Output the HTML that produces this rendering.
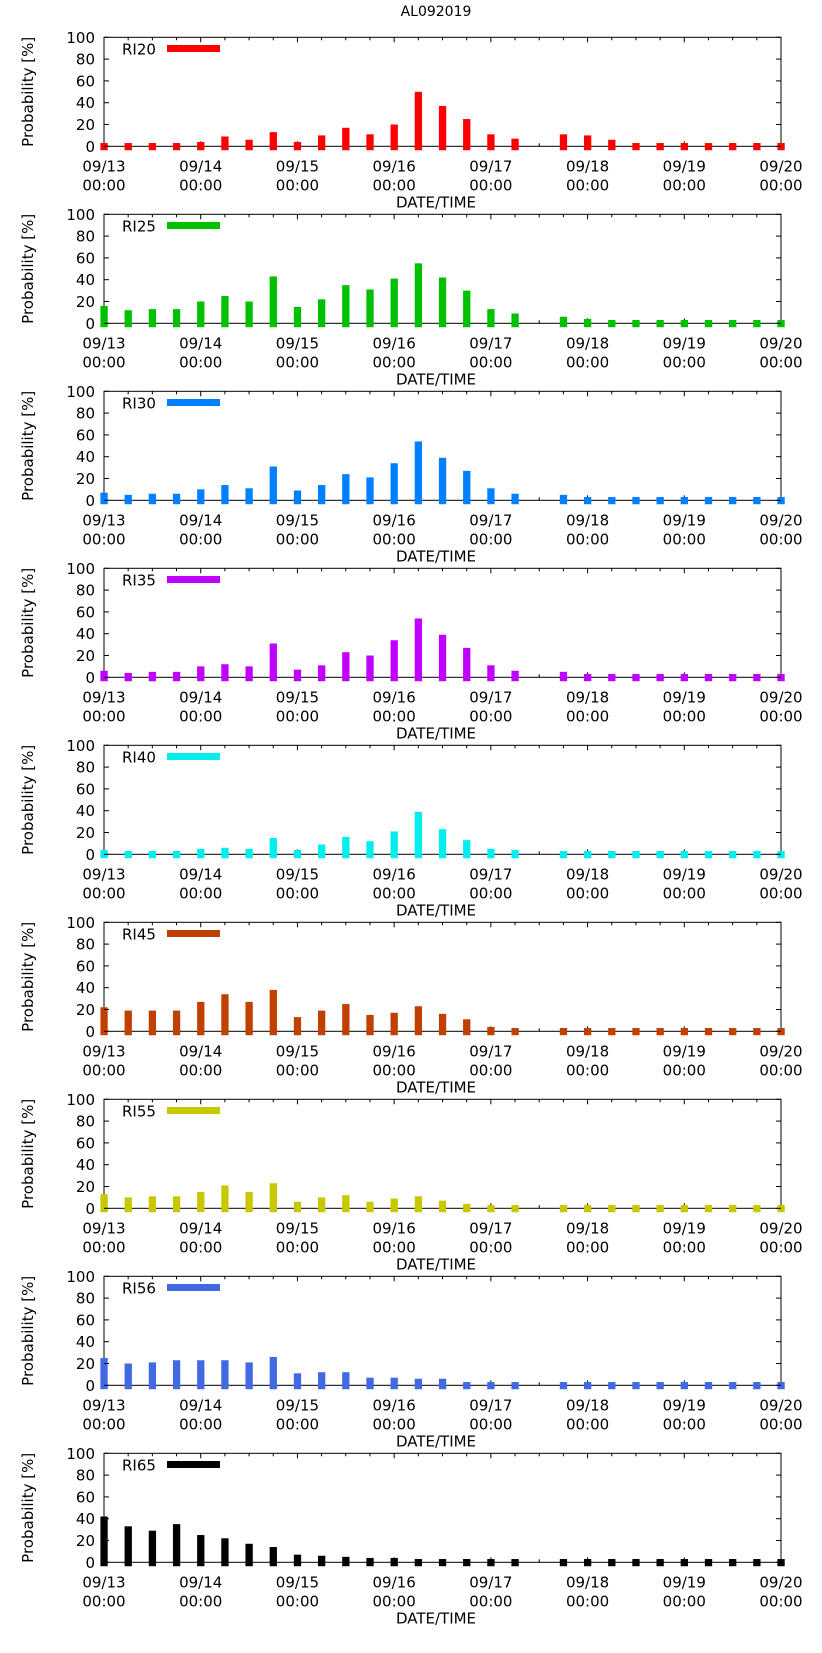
<!DOCTYPE html>
<html><head><meta charset="utf-8"><style>
html,body{margin:0;padding:0;background:#fff}
svg{display:block}
text{font-family:"DejaVu Sans","Liberation Sans",sans-serif;fill:#000}
</style></head><body>
<svg id="chart" width="822" height="1653" viewBox="0 0 822 1653" xmlns="http://www.w3.org/2000/svg">
<text x="436" y="16" font-size="14" text-anchor="middle">AL092019</text>
</svg>
<script>
const seriesNames = ["RI20","RI25","RI30","RI35","RI40","RI45","RI55","RI56","RI65"];
const seriesColors = ["#ff0000","#00c000","#0080ff","#c000ff","#00eeee","#c04000","#c8c800","#4169e1","#000000"];
const xTickLabels = ["09/13","09/14","09/15","09/16","09/17","09/18","09/19","09/20"];
const ri20 = [3,3,3,3,4,9,6,13,4,10,17,11,20,50,37,25,11,7,null,11,10,6,3,3,3,3,3,3,3];
const ri25 = [16,12,13,13,20,25,20,43,15,22,35,31,41,55,42,30,13,9,null,6,4,3,3,3,3,3,3,3,3];
const ri30 = [7,5,6,6,10,14,11,31,9,14,24,21,34,54,39,27,11,6,null,5,3,3,3,3,3,3,3,3,3];
const ri35 = [6,4,5,5,10,12,10,31,7,11,23,20,34,54,39,27,11,6,null,5,3,3,3,3,3,3,3,3,3];
const ri40 = [4,3,3,3,5,6,5,15,4,9,16,12,21,39,23,13,5,4,null,3,3,3,3,3,3,3,3,3,3];
const ri45 = [22,19,19,19,27,34,27,38,13,19,25,15,17,23,16,11,4,3,null,3,3,3,3,3,3,3,3,3,3];
const ri55 = [13,10,11,11,15,21,15,23,6,10,12,6,9,11,7,4,3,3,null,3,3,3,3,3,3,3,3,3,3];
const ri56 = [25,20,21,23,23,23,21,26,11,12,12,7,7,6,6,3,3,3,null,3,3,3,3,3,3,3,3,3,3];
const ri65 = [42,33,29,35,25,22,17,14,7,6,5,4,4,3,3,3,3,3,null,3,3,3,3,3,3,3,3,3,3];
const yTicks = [0,20,40,60,80,100];
const allSeries = [ri20,ri25,ri30,ri35,ri40,ri45,ri55,ri56,ri65];

const NS="http://www.w3.org/2000/svg";
const svg=document.getElementById('chart');
const L=104,R=781,PH=109,PITCH=177,TOP0=37.3;
const nSlots=28;
function xs(i){return L+(R-L)*i/nSlots;}
function mk(tag,attrs,parent){const e=document.createElementNS(NS,tag);for(const k in attrs)e.setAttribute(k,attrs[k]);(parent||svg).appendChild(e);return e;}

allSeries.forEach((vals,p)=>{
  const top=TOP0+p*PITCH;
  const ys=v=>top+PH-v*PH/100;
  const g=mk('g',{});
  
  
  // x ticks (under bars)
  for(let i=0;i<=nSlots;i++){
    const x=xs(i),len=(i%4===0)?5:3;
    mk('line',{x1:x,x2:x,y1:top+PH,y2:top+PH-len,stroke:'#000'},g);
    mk('line',{x1:x,x2:x,y1:top,y2:top+len,stroke:'#000'},g);
  }
  // frame
  const fr=mk('rect',{x:L,y:top,width:R-L,height:PH,fill:'none',stroke:'#000','stroke-width':1},g);
  
  
  // bars
  vals.forEach((v,i)=>{
    if(v===null)return;
    const b=mk('rect',{x:xs(i)-3.6,y:ys(v),width:7.3,height:ys(-3.6)-ys(v),fill:seriesColors[p]},g);
    
    
  });
  // y ticks
  yTicks.forEach(t=>{
    const y=ys(t);
    mk('line',{x1:L,x2:L+5,y1:y,y2:y,stroke:'#000'},g);
    mk('line',{x1:R,x2:R-5,y1:y,y2:y,stroke:'#000'},g);
    const tx=mk('text',{x:L-9,y:y+5.5,'font-size':15,'text-anchor':'end'},g);
    tx.textContent=t;
    
    
  });
  xTickLabels.forEach((lab,d)=>{
    const x=xs(d*4);
    const t1=mk('text',{x:x,y:top+PH+25,'font-size':15,'text-anchor':'middle'},g);
    t1.textContent=lab;
    
    
    const t2=mk('text',{x:x,y:top+PH+44,'font-size':15,'text-anchor':'middle'},g);
    t2.textContent='00:00';
    
    
  });
  const xt=mk('text',{x:436,y:top+PH+61,'font-size':15,'text-anchor':'middle'},g);
  xt.textContent='DATE/TIME';
  
  
  const cy=top+PH/2;
  const yt=mk('text',{x:0,y:0,'font-size':15,'text-anchor':'middle',transform:`translate(33,${cy}) rotate(-90)`},g);
  yt.textContent='Probability [%]';
  
  
  // legend
  const lt=mk('text',{x:122,y:top+17,'font-size':15},g);
  lt.textContent=seriesNames[p];
  
  
  const ll=mk('rect',{x:167,y:top+7.7,width:53,height:7,fill:seriesColors[p]},g);
  
  
});
</script>
</body></html>
